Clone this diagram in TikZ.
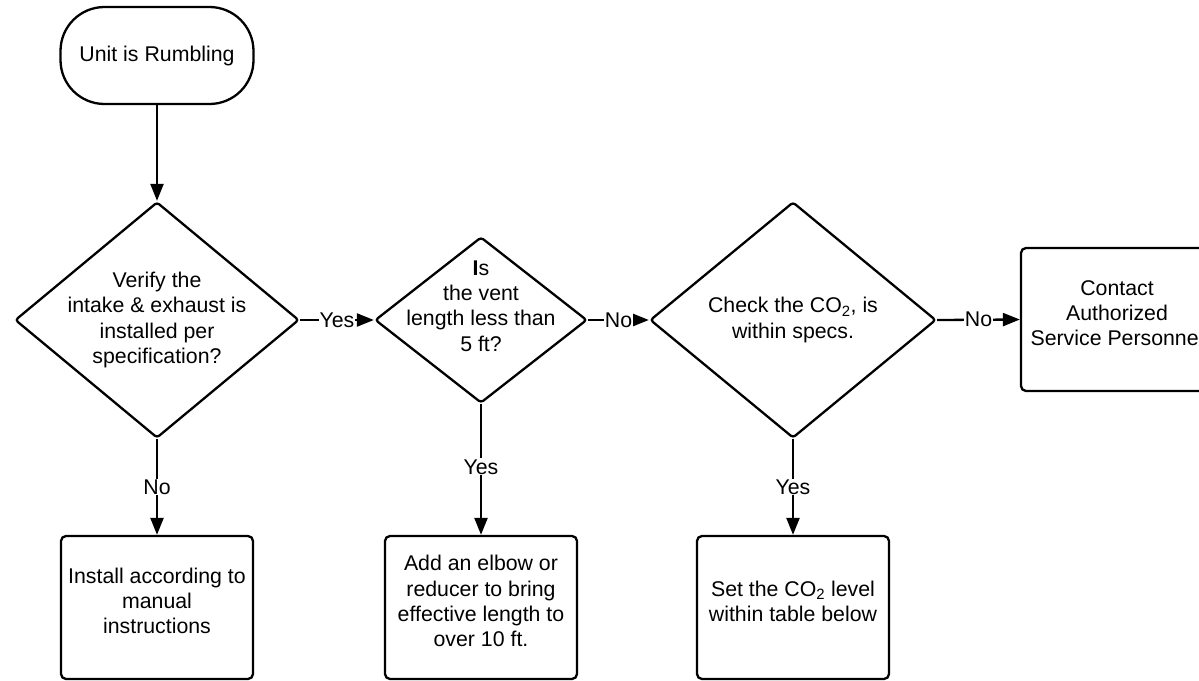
\documentclass[tikz,border=0pt]{standalone}
\usepackage{fontspec}
\setmainfont{Liberation Sans}
\usetikzlibrary{arrows.meta,shapes.geometric,positioning}

\begin{document}
\begin{tikzpicture}[
x=1pt,y=-1pt,
font=\fontsize{21.3}{25.2}\selectfont,
term/.style={
  draw,
  line width=2.3pt,
  rounded corners=44pt,
  minimum width=193pt,
  minimum height=97pt
},
decision/.style={
  draw,
  diamond,
  line width=2.3pt,
  rounded corners=3pt,
  inner sep=0pt
},
proc/.style={
  draw,
  line width=2.3pt,
  rounded corners=5pt,
  align=center,
  text depth=13pt,
  minimum width=192pt,
  minimum height=143pt
},
flow/.style={
  draw,
  line width=2.3pt,
  -{Triangle[length=17pt,width=13pt]}
},
answer/.style={
  fill=white,
  inner sep=1pt
}
]
\useasboundingbox (0,0) rectangle (1199,680);
\clip (0,0) rectangle (1199,680);

\node[term] at (157,55.5) 
  (start) {Unit is Rumbling};
\node[decision,minimum width=284pt,minimum height=236pt,
  label={[align=center]center:{Verify the\\intake \& exhaust is\\installed per\\specification?}}] at (157,320) 
  (verify) {};
\node[decision,minimum width=212pt,minimum height=166pt,
  label={[align=center,yshift=14pt]center:{\textbf{I}s\\the vent\\length less than\\5 ft?}}] at (481,320) 
  (vent) {};
\node[decision,minimum width=286pt,minimum height=236pt,
  label={[align=center]center:{Check the CO\textsubscript{2}, is\\within specs.}}] at (793,320) 
  (co2) {};
\node[proc] at (1117,319.5) 
  (contact) {Contact\\Authorized\\Service Personnel};
\node[proc] at (157,607.5) 
  (install) {Install according to\\manual\\instructions};
\node[proc] at (481,607.5) 
  (elbow) {Add an elbow or\\reducer to bring\\effective length to\\over 10 ft.};
\node[proc] at (793,607.5) 
  (setco2) {Set the CO\textsubscript{2} level\\within table below};

\draw[flow] (start) -- (verify);
\draw[flow] (verify.east) -- node[answer] {Yes} (vent.west);
\draw[flow] (vent.east) -- node[answer] {No} (co2.west);
\draw[flow] (co2.east) -- node[answer] {No} (contact.west);
\draw[flow] (verify.south) -- node[answer] {No} (install.north);
\draw[flow] (vent.south) -- node[answer,pos=0.48] {Yes} (elbow.north);
\draw[flow] (co2.south) -- node[answer] {Yes} (setco2.north);
\end{tikzpicture}
\end{document}
